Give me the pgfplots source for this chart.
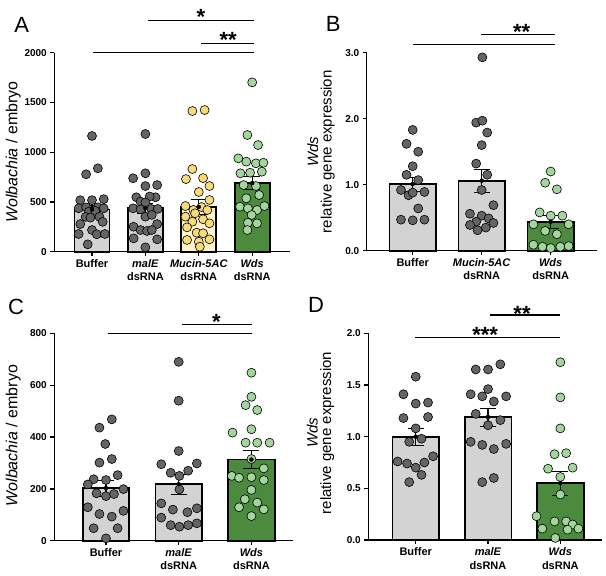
\documentclass[border=0pt]{standalone}
\usepackage{fontspec}
\setmainfont{Liberation Sans}
\usepackage{pgfplots}
\pgfplotsset{compat=1.18}
\definecolor{barGray}{HTML}{D3D3D3}
\definecolor{ptGray}{HTML}{646464}
\definecolor{barYel}{HTML}{FFF5CC}
\definecolor{ptYel}{HTML}{F8DA78}
\definecolor{barGrn}{HTML}{4C8A3E}
\definecolor{ptGrn}{HTML}{A3D69C}
\tikzset{
 sig/.style={line width=1.4pt},
 star/.style={font=\bfseries\fontsize{22}{22}\selectfont, inner sep=0pt, yshift=-5pt},
}
\pgfplotsset{
 panel/.style={
  scale only axis, anchor=south west,
  axis lines=left, axis line style={-, line width=1.5pt},
  tick align=outside, major tick length=4pt,
  tick style={line width=1.3pt, black},
  ymin=0, clip=false,
  /pgf/number format/assume math mode=true,
  /pgf/number format/1000 sep={},
  yticklabel style={font=\bfseries\fontsize{10}{10}\selectfont},
  xticklabel style={font=\bfseries\fontsize{11}{13.5}\selectfont, align=center},
  ylabel style={font=\fontsize{15}{13.5}\selectfont, anchor=center, align=center},
 },
 bars/.style={ybar, bar shift=0pt, draw=black, line width=1.7pt, fill=#1},
 pts/.style={only marks, mark=*, mark size=4.5pt, mark options={draw=black, line width=0.6pt, fill=#1}},
 errs/.style={forget plot, only marks, mark=none, error bars/.cd, y dir=both, y explicit, error bar style={line width=1.3pt, draw=black, mark size=8pt}},
}
\begin{document}
\begin{tikzpicture}
\useasboundingbox (0,0) rectangle (606pt,-576pt);
% ---------------- A
\begin{axis}[panel, at={(54.3pt,-251.7pt)}, width=235.7pt, height=199pt,
  xmin=-0.706, xmax=3.708, ymax=2000, ytick={0,500,1000,1500,2000},
  xtick={0,1,2,3}, xticklabels={Buffer,{\textit{malE}\\dsRNA},{\textit{Mucin-5AC}\\dsRNA},{\textit{Wds}\\dsRNA}},
  ylabel={\textit{Wolbachia} / embryo}, ylabel style={font=\fontsize{16}{14}\selectfont, at={(axis description cs:-0.174,0.5)}}, bar width=35pt]
\addplot[bars=barGray] coordinates {(0,425) (1,440)};
\addplot[bars=barYel] coordinates {(2,450)};
\addplot[bars=barGrn] coordinates {(3,690)};
\addplot[pts=ptGray] coordinates {(0,1163) (-0.11,778) (0.11,838) (-0.22,518) (0,518) (0.22,528) (-0.25,436) (-0.11,446) (0.11,446) (0.22,436) (-0.06,402) (0.06,410) (-0.12,350) (-0.03,342) (0.14,350) (-0.22,278) (0.2,300) (0,218) (-0.25,178) (0.09,175) (0.24,178) (-0.08,74)};
\addplot[pts=ptGray] coordinates {(1,1183) (0.77,738) (1,788) (1,660) (1.22,670) (0.83,547) (1.19,547) (1.08,555) (0.91,503) (1,495) (0.77,436) (0.91,425) (1.11,430) (1.23,430) (1,352) (1.12,370) (0.78,251) (1.22,278) (0.91,218) (1.03,208) (1.12,218) (0.78,134) (1.22,124) (1,44)};
\addplot[pts=ptYel] coordinates {(1.88,1414) (2.11,1424) (1.88,831) (1.76,730) (2.08,740) (2.2,660) (2,600) (2.2,520) (1.75,459) (1.9,420) (2.05,449) (2.16,419) (1.75,352) (1.93,386) (2.08,326) (1.88,302) (1.78,245) (2.2,285) (1.96,191) (2.08,185) (1.78,118) (2.2,124) (2,100) (2.02,50)};
\addplot[pts=ptGrn] coordinates {(3,1702) (2.91,1173) (3.11,1072) (2.74,938) (2.89,905) (3.07,888) (3.21,894) (2.78,788) (2.96,794) (3.18,804) (2.84,670) (3.07,660) (2.89,537) (3.13,570) (2.77,452) (2.92,436) (3.09,419) (3.23,459) (2.99,369) (2.92,291) (3.09,285) (2.91,218)};
\addplot[errs] coordinates {(0,425) +- (0,40) (1,440) +- (0,50) (2,450) +- (0,78) (3,690) +- (0,65)};
\draw[sig] (axis cs:0.01,2000) -- (axis cs:3.03,2000);
\draw[sig] (axis cs:2.05,2094) -- (axis cs:3.03,2094);
\draw[sig] (axis cs:1.04,2322) -- (axis cs:3.03,2322);
\node[star] at (axis cs:2.55,2178) {**};
\node[star] at (axis cs:2.04,2412) {*};
\end{axis}
% ---------------- B
\begin{axis}[panel, at={(366.7pt,-250.7pt)}, width=230pt, height=198pt,
  xmin=-0.667, xmax=2.667, ymax=3, ytick={0,1,2,3},
  yticklabel style={/pgf/number format/.cd, fixed, fixed zerofill, precision=1},
  xtick={0,1,2}, xticklabels={Buffer,{\textit{Mucin-5AC}\\dsRNA},{\textit{Wds}\\dsRNA}},
  ylabel={\textit{Wds}\\relative gene expression}, ylabel style={at={(axis description cs:-0.199,0.5)}}, bar width=46.5pt]
\addplot[bars=barGray] coordinates {(0,1.01) (1,1.06)};
\addplot[bars=barGrn] coordinates {(2,0.44)};
\addplot[pts=ptGray] coordinates {(0,1.83) (-0.09,1.62) (0.08,1.50) (0,1.28) (-0.09,1.15) (0.08,1.07) (-0.17,0.92) (-0.06,0.84) (0,0.88) (0.17,0.89) (0.08,0.64) (-0.17,0.47) (0,0.46) (0.17,0.47)};
\addplot[pts=ptGray] coordinates {(1.01,2.93) (0.92,1.94) (1.01,1.97) (1.08,1.79) (1,1.60) (0.92,1.32) (1.08,1.15) (1,0.92) (1.17,0.69) (0.83,0.56) (1,0.53) (1.1,0.49) (0.92,0.44) (0.83,0.39) (1.17,0.42) (1.06,0.35) (0.94,0.31)};
\addplot[pts=ptGrn] coordinates {(2,1.20) (1.92,1.03) (2.09,0.93) (1.84,0.58) (2,0.53) (2.17,0.53) (1.75,0.40) (2.26,0.40) (1.92,0.30) (2.09,0.25) (1.75,0.09) (1.88,0.06) (2,0.04) (2.14,0.06) (2.26,0.07)};
\addplot[errs] coordinates {(0,1.01) +- (0,0.11) (1,1.06) +- (0,0.18) (2,0.44) +- (0,0.1)};
\draw[sig] (axis cs:0,3.127) -- (axis cs:2.06,3.127);
\draw[sig] (axis cs:0.99,3.279) -- (axis cs:2.06,3.279);
\node[star] at (axis cs:1.58,3.394) {**};
\end{axis}
% ---------------- C
\begin{axis}[panel, at={(54.3pt,-540.7pt)}, width=239pt, height=207.4pt,
  xmin=-0.711, xmax=2.576, ymax=800, ytick={0,200,400,600,800},
  xtick={0,1,2}, xticklabels={Buffer,{\textit{malE}\\dsRNA},{\textit{Wds}\\dsRNA}},
  ylabel={\textit{Wolbachia} / embryo}, ylabel style={font=\fontsize{16}{14}\selectfont, at={(axis description cs:-0.172,0.506)}}, bar width=46.5pt]
\addplot[bars=barGray] coordinates {(0,203) (1,218)};
\addplot[bars=barGrn] coordinates {(2,313)};
\addplot[pts=ptGray] coordinates {(0.08,468) (-0.09,436) (-0.01,373) (-0.09,301) (0.08,315) (-0.17,237) (0.16,253) (-0.25,217) (0,234) (-0.13,183) (0,172) (0.11,180) (0.24,199) (-0.25,129) (-0.09,103) (0.08,93) (0.24,115) (-0.17,48) (0.16,48) (0,9)};
\addplot[pts=ptGray] coordinates {(1,690) (1,540) (1,346) (0.76,295) (1.25,298) (0.89,262) (1.13,270) (1.01,250) (1.01,198) (0.76,144) (0.92,120) (1.12,110) (1.25,125) (0.76,89) (0.89,60) (1.01,54) (1.13,60) (1.25,67)};
\addplot[pts=ptGrn] coordinates {(2,648) (2,555) (1.92,523) (2.08,504) (1.74,417) (2,430) (1.92,378) (2.08,378) (2.25,378) (2,315) (1.73,250) (1.83,243) (2,245) (2.17,279) (2.17,234) (2,196) (1.91,160) (2.08,147) (1.83,129) (2.17,121) (2,95)};
\addplot[errs] coordinates {(0,203) +- (0,30) (1,218) +- (0,38) (2,313) +- (0,35)};
\draw[sig] (axis cs:0.03,800) -- (axis cs:2.01,800);
\draw[sig] (axis cs:1.05,835) -- (axis cs:2.01,835);
\node[star] at (axis cs:1.52,864) {*};
\end{axis}
% ---------------- D
\begin{axis}[panel, at={(368.3pt,-540pt)}, width=233.4pt, height=206.7pt,
  xmin=-0.656, xmax=2.572, ymax=2, ytick={0,0.5,1,1.5,2},
  yticklabel style={/pgf/number format/.cd, fixed, fixed zerofill, precision=1},
  xtick={0,1,2}, xticklabels={Buffer,{\textit{malE}\\dsRNA},{\textit{Wds}\\dsRNA}},
  ylabel={\textit{Wds}\\relative gene expression}, ylabel style={at={(axis description cs:-0.205,0.518)}}, bar width=46.7pt]
\addplot[bars=barGray] coordinates {(0,1.00) (1,1.19)};
\addplot[bars=barGrn] coordinates {(2,0.55)};
\addplot[pts=ptGray] coordinates {(0,1.58) (-0.17,1.41) (0,1.32) (0.17,1.33) (-0.17,1.18) (0.17,1.19) (0,1.08) (-0.09,0.95) (0.08,0.98) (-0.25,0.76) (-0.12,0.74) (0,0.70) (0.12,0.75) (0.24,0.81) (0.08,0.63) (-0.09,0.56)};
\addplot[pts=ptGray] coordinates {(0.83,1.65) (1,1.65) (1.17,1.70) (1,1.46) (0.76,1.41) (0.92,1.39) (1.25,1.39) (1.08,1.34) (0.83,1.22) (1.17,1.16) (1,1.11) (0.76,0.95) (0.92,0.92) (1.08,0.88) (1.25,0.93) (0.92,0.56) (1.08,0.60)};
\addplot[pts=ptGrn] coordinates {(2,1.72) (2,1.38) (2,1.08) (1.92,0.83) (2.08,0.84) (1.83,0.69) (2.17,0.70) (2,0.61) (2,0.44) (1.67,0.23) (1.75,0.11) (1.92,0.18) (2.08,0.18) (2.17,0.15) (2.1,0.10) (2.25,0.11) (1.93,0.02)};
\addplot[errs] coordinates {(0,1.00) +- (0,0.08) (1,1.19) +- (0,0.09) (2,0.55) +- (0,0.12)};
\draw[sig] (axis cs:-0.01,1.96) -- (axis cs:1.99,1.96);
\draw[sig] (axis cs:1.03,2.177) -- (axis cs:1.99,2.177);
\node[star] at (axis cs:0.96,2.03) {***};
\node[star] at (axis cs:1.47,2.24) {**};
\end{axis}
\node[font=\fontsize{22}{22}\selectfont] at (21.7pt,-25pt) {A};
\node[font=\fontsize{22}{22}\selectfont] at (333.3pt,-24pt) {B};
\node[font=\fontsize{22}{22}\selectfont] at (16pt,-307pt) {C};
\node[font=\fontsize{22}{22}\selectfont] at (316pt,-305pt) {D};
\end{tikzpicture}
\end{document}
